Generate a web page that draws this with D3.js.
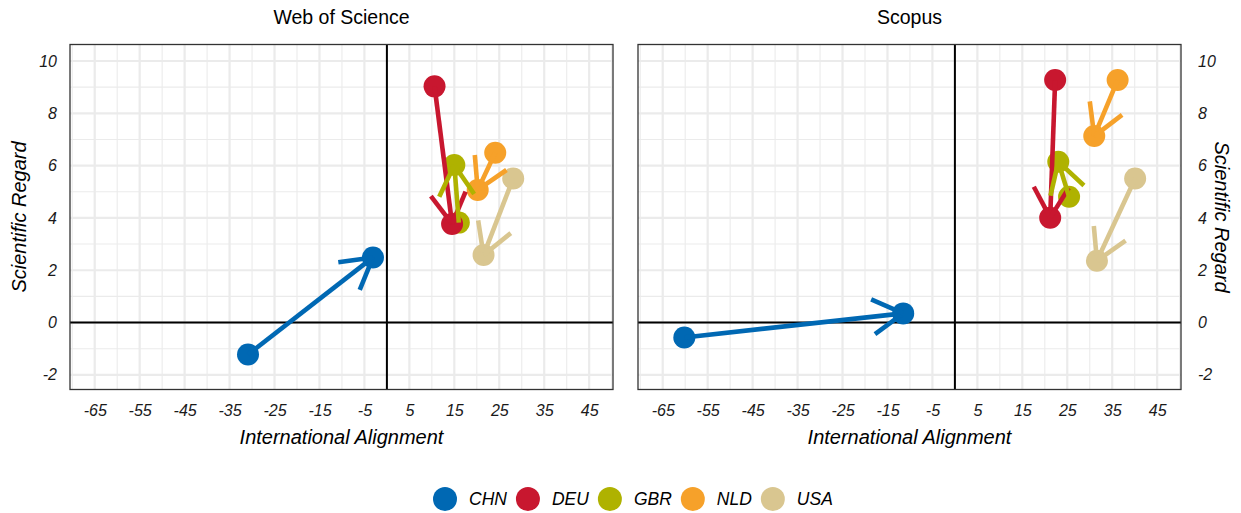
<!DOCTYPE html>
<html>
<head>
<meta charset="utf-8">
<script src="https://cdn.jsdelivr.net/npm/d3@7"></script>
<style>
  html, body { margin: 0; padding: 0; background: #fff; }
  svg { display: block; font-family: "Liberation Sans", Arial, sans-serif; }
</style>
</head>
<body>
<svg id="chart" width="1241" height="513"></svg>
<script>
// ---------------- data ----------------
const countries = ["CHN", "DEU", "GBR", "NLD", "USA"];
const colors = ["#0068B3", "#C8172F", "#AFB200", "#F6A12A", "#D9C690"];
const panelTitles = ["Web of Science", "Scopus"];

const wosFromX = [-30.9, 10.6, 16.0, 24.1, 28.1];
const wosFromY = [-1.22, 9.03, 3.82, 6.49, 5.51];
const wosToX   = [-3.1, 14.5, 15.0, 20.2, 21.5];
const wosToY   = [2.49, 3.77, 6.02, 5.07, 2.58];

const scoFromX = [-60.2, 22.3, 25.4, 36.2, 40.1];
const scoFromY = [-0.57, 9.27, 4.81, 9.27, 5.51];
const scoToX   = [-11.5, 21.2, 23.0, 31.0, 31.6];
const scoToY   = [0.35, 4.01, 6.15, 7.13, 2.36];

const xTicks = [-65, -55, -45, -35, -25, -15, -5, 5, 15, 25, 35, 45];
const xMinor = [-70, -60, -50, -40, -30, -20, -10, 0, 10, 20, 30, 40, 50];
const yTicks = [-2, 0, 2, 4, 6, 8, 10];
const yMinor = [-1, 1, 3, 5, 7, 9];

const xTitle = "International Alignment";
const yTitle = "Scientific Regard";

// ---------------- layout ----------------
const svg = d3.select("#chart");
svg.append("rect").attr("width", 1241).attr("height", 513).attr("fill", "#fff");

const panelW = 543, panelTop = 44.5, panelBottom = 389.5;
const panelLefts = [70, 638];
const xDomain = [-70.5, 50.3];
const yDomain = [-2.56, 10.63];
const y = d3.scaleLinear().domain(yDomain).range([panelBottom, panelTop]);

const datasets = [
  { fx: wosFromX, fy: wosFromY, tx: wosToX, ty: wosToY },
  { fx: scoFromX, fy: scoFromY, tx: scoToX, ty: scoToY }
];

const ARM = 35, ANG = Math.PI / 6, LW = 4.6, R = 11;
const TICK_FS = 16;
const fmt = d => String(d);

function styleTicks(sel) {
  sel.selectAll("text").attr("font-size", TICK_FS).attr("font-style", "italic").attr("fill", "#1a1a1a")
    .attr("font-family", "Liberation Sans, Arial, sans-serif");
}

panelLefts.forEach((left, pi) => {
  const x = d3.scaleLinear().domain(xDomain).range([left, left + panelW]);
  const g = svg.append("g");
  const clipId = "clip" + pi;
  svg.append("clipPath").attr("id", clipId).append("rect")
    .attr("x", left).attr("y", panelTop).attr("width", panelW).attr("height", panelBottom - panelTop);

  const grid = g.append("g").attr("clip-path", `url(#${clipId})`);
  grid.selectAll(".vminor").data(xMinor).join("line")
    .attr("class", "vminor")
    .attr("x1", d => x(d)).attr("x2", d => x(d)).attr("y1", panelTop).attr("y2", panelBottom)
    .attr("stroke", "#ebebeb").attr("stroke-width", 1.1);
  grid.selectAll(".hminor").data(yMinor).join("line")
    .attr("class", "hminor")
    .attr("y1", d => y(d)).attr("y2", d => y(d)).attr("x1", left).attr("x2", left + panelW)
    .attr("stroke", "#ebebeb").attr("stroke-width", 1.1);
  grid.selectAll(".vmajor").data(xTicks).join("line")
    .attr("class", "vmajor")
    .attr("x1", d => x(d)).attr("x2", d => x(d)).attr("y1", panelTop).attr("y2", panelBottom)
    .attr("stroke", "#ebebeb").attr("stroke-width", 2.2);
  grid.selectAll(".hmajor").data(yTicks).join("line")
    .attr("class", "hmajor")
    .attr("y1", d => y(d)).attr("y2", d => y(d)).attr("x1", left).attr("x2", left + panelW)
    .attr("stroke", "#ebebeb").attr("stroke-width", 2.2);

  grid.append("line").attr("x1", x(0)).attr("x2", x(0)).attr("y1", panelTop).attr("y2", panelBottom)
    .attr("stroke", "#000").attr("stroke-width", 2);
  grid.append("line").attr("y1", y(0)).attr("y2", y(0)).attr("x1", left).attr("x2", left + panelW)
    .attr("stroke", "#000").attr("stroke-width", 2);

  const ds = datasets[pi];
  const rows = countries.map((c, i) => ({
    c, col: colors[i],
    x0: x(ds.fx[i]), y0: y(ds.fy[i]), x1: x(ds.tx[i]), y1: y(ds.ty[i])
  }));
  const marks = g.append("g").attr("clip-path", `url(#${clipId})`);
  marks.selectAll(".from").data(rows).join("circle")
    .attr("class", "from").attr("cx", d => d.x0).attr("cy", d => d.y0).attr("r", R).attr("fill", d => d.col);
  marks.selectAll(".to").data(rows).join("circle")
    .attr("class", "to").attr("cx", d => d.x1).attr("cy", d => d.y1).attr("r", R).attr("fill", d => d.col);
  rows.forEach(d => {
    const sg = marks.append("g").attr("stroke", d.col).attr("stroke-width", LW).attr("fill", "none");
    sg.append("line").attr("x1", d.x0).attr("y1", d.y0).attr("x2", d.x1).attr("y2", d.y1);
    const back = Math.atan2(d.y0 - d.y1, d.x0 - d.x1);
    [back - ANG, back + ANG].forEach(a => {
      sg.append("line").attr("x1", d.x1).attr("y1", d.y1)
        .attr("x2", d.x1 + ARM * Math.cos(a)).attr("y2", d.y1 + ARM * Math.sin(a));
    });
  });

  g.append("rect").attr("x", left).attr("y", panelTop).attr("width", panelW).attr("height", panelBottom - panelTop)
    .attr("fill", "none").attr("stroke", "#333").attr("stroke-width", 1.3);

  const xa = g.append("g").attr("transform", `translate(0,${panelBottom + 15})`)
    .call(d3.axisBottom(x).tickValues(xTicks).tickSize(0).tickPadding(0).tickFormat(fmt));
  xa.select(".domain").remove();
  styleTicks(xa);

  if (pi === 0) {
    const ya = g.append("g").attr("transform", `translate(${left - 13},0)`)
      .call(d3.axisLeft(y).tickValues(yTicks).tickSize(0).tickPadding(0).tickFormat(fmt));
    ya.select(".domain").remove();
    styleTicks(ya);
    svg.append("text").attr("transform", `translate(26,${(panelTop + panelBottom) / 2}) rotate(-90)`)
      .attr("text-anchor", "middle").attr("font-size", 20).attr("font-style", "italic").attr("fill", "#000")
      .text(yTitle);
  } else {
    const ya = g.append("g").attr("transform", `translate(${left + panelW + 17},0)`)
      .call(d3.axisRight(y).tickValues(yTicks).tickSize(0).tickPadding(0).tickFormat(fmt));
    ya.select(".domain").remove();
    styleTicks(ya);
    svg.append("text").attr("transform", `translate(1215,${(panelTop + panelBottom) / 2}) rotate(90)`)
      .attr("text-anchor", "middle").attr("font-size", 20).attr("font-style", "italic").attr("fill", "#000")
      .text(yTitle);
  }

  svg.append("text").attr("x", left + panelW / 2).attr("y", 444)
    .attr("text-anchor", "middle").attr("font-size", 20).attr("font-style", "italic").attr("fill", "#000")
    .text(xTitle);

  svg.append("text").attr("x", left + panelW / 2).attr("y", 24)
    .attr("text-anchor", "middle").attr("font-size", 19.5).attr("fill", "#000")
    .text(panelTitles[pi]);
});

// ---------------- legend ----------------
const leg = svg.append("g");
let cx = 433;
countries.forEach((c, i) => {
  leg.append("circle").attr("cx", cx + 12).attr("cy", 499).attr("r", 12).attr("fill", colors[i]);
  const t = leg.append("text").attr("x", cx + 36).attr("y", 505).attr("font-size", 17.5)
    .attr("font-style", "italic").attr("fill", "#000").text(c);
  cx = cx + 36 + t.node().getComputedTextLength() + 9;
});
</script>
</body>
</html>
